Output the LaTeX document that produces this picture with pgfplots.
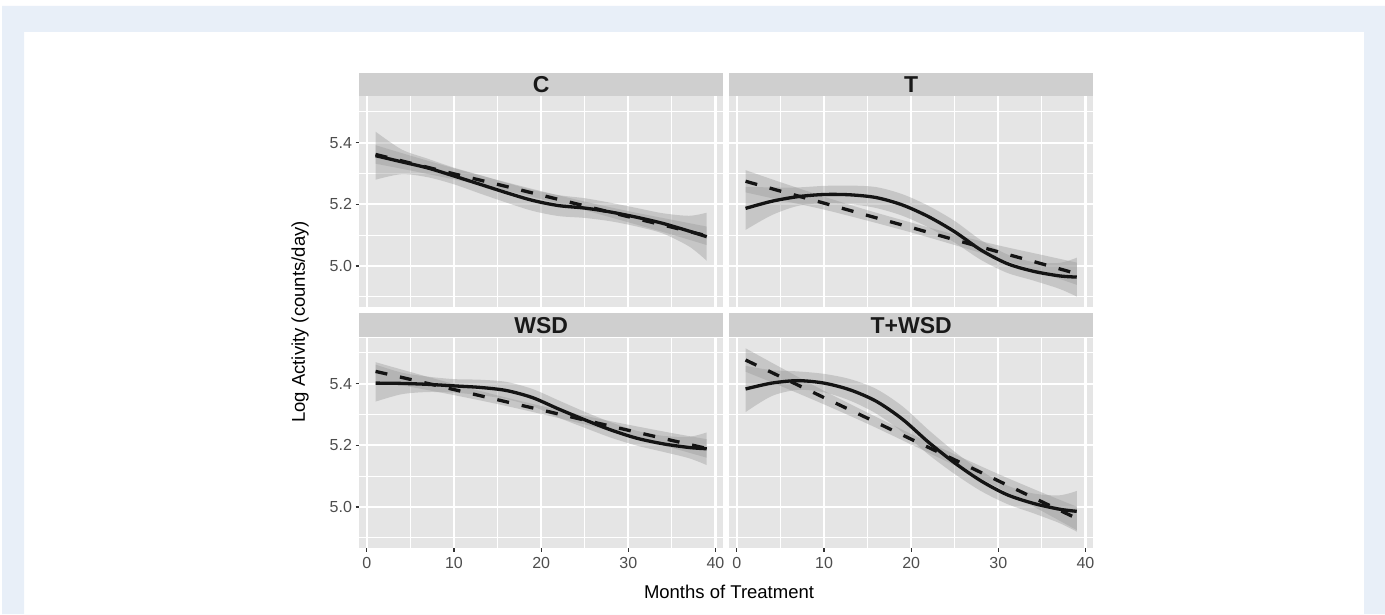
\documentclass[border=0pt]{standalone}
\usepackage{fontspec}
\setmainfont{Liberation Sans}
\usepackage{pgfplots}
\usepackage{pgfplotstable}
\pgfplotsset{compat=1.18}
\usepgfplotslibrary{fillbetween}

\definecolor{bgblue}{HTML}{E8EFF8}
\definecolor{panelbg}{HTML}{E5E5E5}
\definecolor{stripcol}{HTML}{CFCFCF}
\definecolor{labcol}{HTML}{4D4D4D}
\definecolor{tickcol}{HTML}{333333}

% loess fits (x, fit, half width of band)
\pgfplotstableread{
x y h
1 5.358 0.078
4 5.338 0.040
7 5.318 0.030
10 5.292 0.027
13 5.265 0.030
16 5.238 0.032
19 5.213 0.034
22 5.196 0.034
25 5.188 0.032
28 5.175 0.030
31 5.158 0.030
34 5.138 0.033
37 5.113 0.050
39 5.095 0.078
}\Cfit
\pgfplotstableread{
x y h
1 5.362 0.030
5 5.334 0.024
10 5.299 0.018
15 5.265 0.014
20 5.230 0.013
25 5.195 0.014
30 5.160 0.018
35 5.126 0.024
39 5.098 0.030
}\Clin

\pgfplotstableread{
x y h
1 5.187 0.070
4 5.210 0.045
7 5.225 0.030
10 5.232 0.028
13 5.231 0.030
16 5.222 0.034
19 5.198 0.035
22 5.160 0.035
25 5.111 0.035
28 5.052 0.032
31 5.008 0.030
34 4.983 0.030
37 4.968 0.042
39 4.964 0.063
}\Tfit
\pgfplotstableread{
x y h
1 5.275 0.036
5 5.243 0.029
10 5.204 0.021
15 5.164 0.017
20 5.125 0.016
25 5.085 0.017
30 5.046 0.021
35 5.007 0.029
39 4.975 0.036
}\Tlin

\pgfplotstableread{
x y h
1 5.402 0.060
4 5.401 0.035
7 5.398 0.025
10 5.393 0.022
13 5.388 0.025
16 5.378 0.028
19 5.355 0.028
22 5.318 0.028
25 5.283 0.026
28 5.250 0.025
31 5.223 0.024
34 5.205 0.026
37 5.193 0.035
39 5.189 0.053
}\Wfit
\pgfplotstableread{
x y h
1 5.440 0.030
5 5.414 0.024
10 5.381 0.018
15 5.348 0.014
20 5.315 0.013
25 5.282 0.014
30 5.249 0.018
35 5.216 0.024
39 5.190 0.030
}\Wlin

\pgfplotstableread{
x y h
1 5.383 0.075
4 5.402 0.042
7 5.410 0.030
10 5.402 0.030
13 5.380 0.035
16 5.343 0.040
19 5.285 0.042
22 5.210 0.040
25 5.143 0.036
28 5.085 0.033
31 5.040 0.030
34 5.012 0.032
37 4.993 0.045
39 4.986 0.066
}\TWfit
\pgfplotstableread{
x y h
1 5.477 0.038
5 5.423 0.030
10 5.355 0.022
15 5.288 0.018
20 5.220 0.017
25 5.153 0.018
30 5.085 0.022
35 5.017 0.030
39 4.963 0.038
}\TWlin

\pgfplotsset{
  panel/.style={
    scale only axis, width=364.3pt, height=210.5pt,
    xmin=-0.9, xmax=40.9, ymin=4.867, ymax=5.55,
    xtick={0,10,20,30,40}, minor xtick={5,15,25,35},
    ytick={5.0,5.2,5.4}, minor ytick={4.9,5.1,5.3,5.5},
    xtick pos=bottom, ytick pos=left,
    grid=both,
    major grid style={white, line width=2.1pt},
    minor grid style={white, line width=1.05pt},
    axis line style={draw=none},
    axis background/.style={fill=panelbg},
    tick align=outside, major tick length=3.5pt, minor tick length=0pt,
    tick style={tickcol, line width=1.1pt},
    ticklabel style={font=\fontsize{16}{16}\selectfont, text=labcol},
    xticklabel style={yshift=-2pt},
    /pgf/number format/assume math mode=true,
    yticklabel={\pgfmathprintnumber[fixed,fixed zerofill,precision=1]{\tick}},
  },
  ribbon/.style={fill=black!40, fill opacity=0.4, draw=none},
  fitline/.style={black!92, line width=3.3pt, smooth},
  linline/.style={black!92, line width=3.3pt, dash pattern=on 12pt off 13pt},
}

\begin{document}
\begin{tikzpicture}
% page frame, drawn only outside the white sheet so the axes stay visible
\fill[white, even odd rule] (0pt,0pt) rectangle (1385pt,614pt) (2pt,0pt) rectangle (1385pt,608pt);
\fill[bgblue, even odd rule] (2pt,0pt) rectangle (1385pt,608pt) (24pt,0pt) rectangle (1364pt,582pt);

% C
\begin{axis}[panel, at={(359pt,307pt)}, anchor=south west, xmajorticks=false]
  \addplot[draw=none, smooth, name path=ca] table[x=x, y expr=\thisrow{y}+\thisrow{h}] {\Cfit};
  \addplot[draw=none, smooth, name path=cb] table[x=x, y expr=\thisrow{y}-\thisrow{h}] {\Cfit};
  \addplot[ribbon] fill between[of=ca and cb];
  \addplot[draw=none, smooth, name path=cc] table[x=x, y expr=\thisrow{y}+\thisrow{h}] {\Clin};
  \addplot[draw=none, smooth, name path=cd] table[x=x, y expr=\thisrow{y}-\thisrow{h}] {\Clin};
  \addplot[ribbon] fill between[of=cc and cd];
  \addplot[fitline] table[x=x, y=y] {\Cfit};
  \addplot[linline] table[x=x, y=y] {\Clin};
\end{axis}
% T
\begin{axis}[panel, at={(729pt,307pt)}, anchor=south west, xmajorticks=false, ymajorticks=false]
  \addplot[draw=none, smooth, name path=ta] table[x=x, y expr=\thisrow{y}+\thisrow{h}] {\Tfit};
  \addplot[draw=none, smooth, name path=tb] table[x=x, y expr=\thisrow{y}-\thisrow{h}] {\Tfit};
  \addplot[ribbon] fill between[of=ta and tb];
  \addplot[draw=none, smooth, name path=tc] table[x=x, y expr=\thisrow{y}+\thisrow{h}] {\Tlin};
  \addplot[draw=none, smooth, name path=td] table[x=x, y expr=\thisrow{y}-\thisrow{h}] {\Tlin};
  \addplot[ribbon] fill between[of=tc and td];
  \addplot[fitline] table[x=x, y=y] {\Tfit};
  \addplot[linline] table[x=x, y=y] {\Tlin};
\end{axis}
% WSD
\begin{axis}[panel, at={(359pt,66pt)}, anchor=south west]
  \addplot[draw=none, smooth, name path=wa] table[x=x, y expr=\thisrow{y}+\thisrow{h}] {\Wfit};
  \addplot[draw=none, smooth, name path=wb] table[x=x, y expr=\thisrow{y}-\thisrow{h}] {\Wfit};
  \addplot[ribbon] fill between[of=wa and wb];
  \addplot[draw=none, smooth, name path=wc] table[x=x, y expr=\thisrow{y}+\thisrow{h}] {\Wlin};
  \addplot[draw=none, smooth, name path=wd] table[x=x, y expr=\thisrow{y}-\thisrow{h}] {\Wlin};
  \addplot[ribbon] fill between[of=wc and wd];
  \addplot[fitline] table[x=x, y=y] {\Wfit};
  \addplot[linline] table[x=x, y=y] {\Wlin};
\end{axis}
% T+WSD
\begin{axis}[panel, at={(729pt,66pt)}, anchor=south west, ymajorticks=false]
  \addplot[draw=none, smooth, name path=xa] table[x=x, y expr=\thisrow{y}+\thisrow{h}] {\TWfit};
  \addplot[draw=none, smooth, name path=xb] table[x=x, y expr=\thisrow{y}-\thisrow{h}] {\TWfit};
  \addplot[ribbon] fill between[of=xa and xb];
  \addplot[draw=none, smooth, name path=xc] table[x=x, y expr=\thisrow{y}+\thisrow{h}] {\TWlin};
  \addplot[draw=none, smooth, name path=xd] table[x=x, y expr=\thisrow{y}-\thisrow{h}] {\TWlin};
  \addplot[ribbon] fill between[of=xc and xd];
  \addplot[fitline] table[x=x, y=y] {\TWfit};
  \addplot[linline] table[x=x, y=y] {\TWlin};
\end{axis}

% strips
\fill[stripcol] (359pt,517.5pt) rectangle (723.3pt,541pt);
\fill[stripcol] (729pt,517.5pt) rectangle (1093.3pt,541pt);
\fill[stripcol] (359pt,276.5pt) rectangle (723.3pt,300.5pt);
\fill[stripcol] (729pt,276.5pt) rectangle (1093.3pt,300.5pt);
\begin{scope}[every node/.style={font=\bfseries\fontsize{23}{23}\selectfont, text=black!90, inner sep=0pt}]
\node at (541.15pt,529.25pt) {C};
\node at (911.15pt,529.25pt) {T};
\node at (541.15pt,288.5pt) {WSD};
\node at (911.15pt,288.5pt) {T+WSD};
\end{scope}

% axis titles
\node[font=\fontsize{18.5}{18.5}\selectfont, rotate=90] at (300pt,292pt) {Log Activity (counts/day)};
\node[font=\fontsize{18.5}{18.5}\selectfont] at (729pt,22pt) {Months of Treatment};
\end{tikzpicture}
\end{document}
